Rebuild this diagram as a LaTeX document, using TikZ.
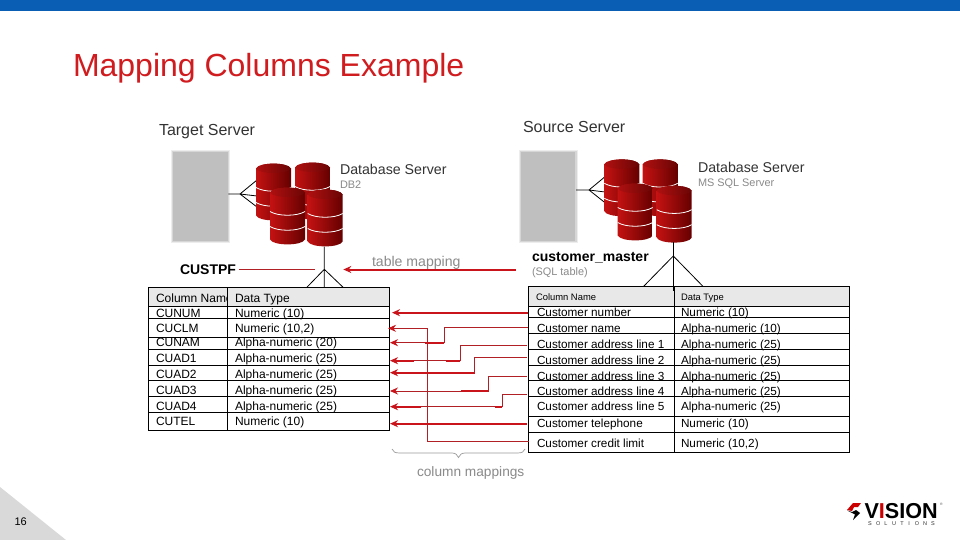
\documentclass[tikz,border=0pt]{standalone}
\usepackage{fontspec}
\setmainfont{Liberation Sans}
\usetikzlibrary{arrows.meta}
\definecolor{barblue}{HTML}{0A5FB4}
\definecolor{titlered}{HTML}{D01C1F}
\definecolor{maproad}{HTML}{B02025}
\definecolor{mapthick}{HTML}{C8141A}
\definecolor{softgrey}{HTML}{8A8A8A}
\definecolor{cylA}{HTML}{C41212}
\definecolor{cylB}{HTML}{A80A0A}
\definecolor{cylC}{HTML}{650000}
\definecolor{cylD}{HTML}{B01010}
\definecolor{cylE}{HTML}{6A0505}
\tikzset{
 txt/.style={anchor=base west,inner sep=0pt,outer sep=0pt,text=#1},
 txt/.default=black,
 cellA/.style={txt,font=\fontsize{12}{12}\selectfont},
 cellB/.style={txt,font=\fontsize{11.75}{12}\selectfont},
 cellH/.style={txt,font=\fontsize{9.4}{10}\selectfont},
 serverlabel/.style={txt=black!80,font=\fontsize{14.2}{15}\selectfont},
 wideserver/.style={txt=black!80,font=\fontsize{16}{17}\selectfont},
 sublabel/.style={txt=softgrey,font=\fontsize{10.9}{11}\selectfont},
 boldlabel/.style={txt,font=\bfseries\fontsize{14}{15}\selectfont},
 tableline/.style={draw=black,line width=1pt},
 fan/.style={draw=black,line width=.8pt},
 thinmap/.style={draw=maproad,line width=1pt},
 thickmap/.style={draw=mapthick,line width=2pt},
 tip/.style={-{Stealth[length=8pt,width=7pt,color=mapthick]}},
}
\newcommand{\cyl}[2]{%
 \shade[left color=cylA,middle color=cylB,right color=cylC]
  (#1,#2+5) .. controls (#1+3,#2-1.5) and (#1+32,#2-1.5) .. (#1+35,#2+5)
  -- (#1+35,#2+52) .. controls (#1+32,#2+58.5) and (#1+3,#2+58.5) .. (#1,#2+52) -- cycle;
 \shade[left color=cylD,right color=cylE]
  (#1,#2+5) .. controls (#1+3,#2-1.5) and (#1+32,#2-1.5) .. (#1+35,#2+5)
  .. controls (#1+32,#2+11) and (#1+3,#2+11) .. (#1,#2+5) -- cycle;
 \draw[white,line width=.8pt] (#1,#2+24) .. controls (#1+8,#2+29) and (#1+27,#2+29) .. (#1+35,#2+24);
 \draw[white,line width=.8pt] (#1,#2+39) .. controls (#1+8,#2+44) and (#1+27,#2+44) .. (#1+35,#2+39);
}
\newcommand{\servbox}[4]{%
 \fill[black!7] (#1-1.5,#2-1.5) rectangle (#3+1.5,#4+1.5);
 \fill[black!16] (#1-.5,#2-.5) rectangle (#3+.5,#4+.5);
 \fill[black!25] (#1+.7,#2+.7) rectangle (#3-.7,#4-.7);
}
\begin{document}
\begin{tikzpicture}[x=1pt,y=-1pt]
\useasboundingbox (0,0) rectangle (960,540);
\fill[white] (0,0) rectangle (960,540);
\fill[barblue] (0,0) rectangle (960,11);
\node[txt=titlered,font=\fontsize{32}{34}\selectfont] (title) at (73,77) {Mapping Columns Example};
\fill[black!15] (0,487) -- (66,540) -- (0,540) -- cycle;
\node[txt,font=\fontsize{11}{12}\selectfont] (pagenum) at (14.5,525) {16};

% server labels
\node[wideserver] (tserver) at (159,135.5) {Target Server};
\node[wideserver] (sserver) at (523,132.5) {Source Server};
\node[serverlabel] (dbl) at (340,175) {Database Server};
\node[sublabel] (dbltype) at (340,189) {DB2};
\node[serverlabel] (dbr) at (698,172) {Database Server};
\node[sublabel] (dbrtype) at (698,186) {MS SQL Server};

% servers
\servbox{172.7}{151.7}{228.3}{241.7}
\servbox{520.7}{151.7}{576}{241.7}
\coordinate (srvL) at (228.3,194);
\coordinate (fanL) at (240,194);
\coordinate (srvR) at (576,190);
\coordinate (fanR) at (589,190);
\coordinate (la1) at (257,180);\coordinate (la2) at (257,196);\coordinate (la3) at (257,207);
\coordinate (ra1) at (605,176.7);\coordinate (ra2) at (605,192);\coordinate (ra3) at (605,202.7);
\draw[fan] (srvL) -- (fanL) (fanL) -- (la1) (fanL) -- (la2) (fanL) -- (la3);
\draw[fan] (srvR) -- (fanR) (fanR) -- (ra1) (fanR) -- (ra2) (fanR) -- (ra3);

% cylinders
\cyl{256}{163.5}\cyl{295}{162.5}\cyl{270}{187.5}\cyl{307.7}{189.5}
\cyl{604.3}{159.3}\cyl{642.7}{159.3}\cyl{617.7}{183.5}\cyl{656.7}{185.7}

% left table
\fill[black!9] (148.5,287.5) rectangle (389,306.3);
\draw[tableline] (148.5,287.5) rectangle (389,430);
\foreach \y in {306.3,318.3,337,349.3,365.3,380.7,396.3,412.3}{\draw[tableline] (148.5,\y) -- (389,\y);}
\draw[tableline] (227.5,287.5) -- (227.5,430);
\begin{scope}
\clip (148,287) rectangle (227,306);
\node[cellA] (lh1) at (156,302) {Column Name};
\end{scope}
\node[cellA] (lh2) at (235,302) {Data Type};
\node[cellA] (l1) at (156,317.3) {CUNUM};  \node[cellA] (lt1) at (235,317.3) {Numeric (10)};
\node[cellA] (l2) at (156,332.3) {CUCLM};  \node[cellA] (lt2) at (235,332.3) {Numeric (10,2)};
\node[cellA] (l3) at (156,346.7) {CUNAM};  \node[cellA] (lt3) at (235,346.7) {Alpha-numeric (20)};
\node[cellA] (l4) at (156,362.7) {CUAD1};  \node[cellA] (lt4) at (235,362.7) {Alpha-numeric (25)};
\node[cellA] (l5) at (156,378.7) {CUAD2};  \node[cellA] (lt5) at (235,378.7) {Alpha-numeric (25)};
\node[cellA] (l6) at (156,394.3) {CUAD3};  \node[cellA] (lt6) at (235,394.3) {Alpha-numeric (25)};
\node[cellA] (l7) at (156,410) {CUAD4};    \node[cellA] (lt7) at (235,410) {Alpha-numeric (25)};
\node[cellA] (l8) at (156,425.7) {CUTEL};  \node[cellA] (lt8) at (235,425.7) {Numeric  (10)};

% right table
\fill[black!9] (528.7,286.7) rectangle (849,306.3);
\draw[tableline] (528.7,286.7) rectangle (849,452.3);
\foreach \y in {306.3,317.3,333.3,349.3,365.3,380.7,396.3,416,432.7}{\draw[tableline] (528.7,\y) -- (849,\y);}
\draw[tableline] (674.5,286.7) -- (674.5,452.3);
\node[cellH] (rh1) at (536,300) {Column Name};
\node[cellH] (rh2) at (681,300) {Data Type};
\node[cellB] (r1) at (537,316.7) {Customer number};        \node[cellB] (rt1) at (681,316.7) {Numeric (10)};
\node[cellB] (r2) at (537,332) {Customer name};            \node[cellB] (rt2) at (681,332) {Alpha-numeric (10)};
\node[cellB] (r3) at (537,348) {Customer address line 1};  \node[cellB] (rt3) at (681,348) {Alpha-numeric (25)};
\node[cellB] (r4) at (537,364) {Customer address line 2};  \node[cellB] (rt4) at (681,364) {Alpha-numeric (25)};
\node[cellB] (r5) at (537,380) {Customer address line 3};  \node[cellB] (rt5) at (681,380) {Alpha-numeric (25)};
\node[cellB] (r6) at (537,395) {Customer address line 4};  \node[cellB] (rt6) at (681,395) {Alpha-numeric (25)};
\node[cellB] (r7) at (537,410.7) {Customer address line 5};\node[cellB] (rt7) at (681,410.7) {Alpha-numeric (25)};
\node[cellB] (r8) at (537,427) {Customer telephone};       \node[cellB] (rt8) at (681,427) {Numeric (10)};
\node[cellB] (r9) at (537,447) {Customer credit limit};    \node[cellB] (rt9) at (681,447) {Numeric (10,2)};

% stack to table fans
\coordinate (dbLb) at (324.3,246.7); \coordinate (dbRb) at (673.3,242.3);
\coordinate (fL) at (324.3,269.3);  \coordinate (fR) at (673.3,256);
\coordinate (tL) at (324.3,287.5);  \coordinate (tR) at (673.3,291);
\coordinate (tLa) at (306.7,287.5); \coordinate (tLb) at (343.3,287.5);
\coordinate (tRa) at (643.3,286.7); \coordinate (tRb) at (703.3,286.7);
\draw[fan] (dbLb) -- (tL) (fL) -- (tLa) (fL) -- (tLb);
\draw[fan,line width=1.1pt] (dbRb) -- (tR);
\draw[fan] (fR) -- (tRa) (fR) -- (tRb);

% table labels
\node[boldlabel] (custpf) at (180,274.5) {CUSTPF};
\node[boldlabel] (custm) at (532,261.5) {customer\_master};
\node[sublabel] (sqlt) at (532,275.5) {(SQL table)};
\node[txt=softgrey,font=\fontsize{14.1}{15}\selectfont] (tmap) at (372,266) {table mapping};
\node[txt=softgrey,font=\fontsize{13.7}{14}\selectfont] (cmap) at (417,476) {column mappings};
\coordinate (cpE) at (239,269.3); \coordinate (cpF) at (315,269.3);
\draw[maproad,line width=.9pt] (cpE) -- (cpF);
\coordinate (tmS) at (515.7,269.5); \coordinate (tmT) at (343.3,269.5);
\draw[thickmap,tip] (tmS) -- (tmT);

% column mappings
\coordinate (s1) at (528,312.7);  \coordinate (t1) at (392,312.7);
\coordinate (s9) at (529,441.3);  \coordinate (t2) at (388,328.3);
\coordinate (s2) at (528,327.3);  \coordinate (t3) at (390,342.7);
\coordinate (s3) at (527,345.3);  \coordinate (t4) at (390,360.7);
\coordinate (s4) at (527,357.3);  \coordinate (t5) at (390,372.7);
\coordinate (s5) at (527,376.7);  \coordinate (t6) at (390,391);
\coordinate (s6) at (527,394.3);  \coordinate (t7) at (390,406.7);
\coordinate (s8) at (527,423.7);  \coordinate (t8) at (390,423.7);
\draw[thickmap,tip] (s1) -- (t1);
\draw[thinmap,tip] (s9) -| (427.3,328.3) -- (t2);
\draw[thinmap,tip] (s2) -| (444.3,342.7) -- (t3);
\draw[thinmap,tip] (s3) -| (460.3,360.7) -- (t4);
\draw[thinmap,tip] (s4) -| (474.7,372.7) -- (t5);
\draw[thinmap,tip] (s5) -| (488.7,391) -- (t6);
\draw[thinmap,tip] (s6) -| (502.3,406.7) -- (t7);
\draw[thickmap,tip] (s8) -- (t8);
% heavier stretches of the mappings
\draw[thickmap,line width=1.6pt] (444.3,342.7) -- (425,342.7);
\draw[thickmap,line width=1.6pt] (460.3,360.7) -- (446,360.7) (414,360.7) -- (396,360.7);
\draw[thickmap,line width=1.6pt] (474.7,372.7) -- (396,372.7);
\draw[thickmap,line width=1.6pt] (488.7,391) -- (461,391);
\draw[thickmap,line width=1.6pt] (502.3,406.7) -- (495,406.7) (421,406.7) -- (396,406.7);

% brace
\coordinate (brL) at (392,449); \coordinate (brR) at (525,449); \coordinate (brT) at (458.5,457.5);
\draw[black!40,line width=.7pt] (brL) .. controls (393,452) and (395,453) .. (400,453) -- (452,453)
  .. controls (456,453) and (457,455) .. (brT) .. controls (460,455) and (461,453) .. (465,453)
  -- (517,453) .. controls (522,453) and (524,452) .. (brR);

% logo
\fill[red!80!black] (847,510) -- (853,503) -- (861,503) -- (858,507) -- (854,507) -- (852,511) -- cycle;
\fill[black] (847,510.5) -- (852,512) -- (856,510) -- (860,513) -- (853,520) -- (855,514.5) -- cycle;
\node[txt,font=\bfseries\fontsize{21.6}{22}\selectfont] (logo) at (864.5,518)
  {V\textcolor{red!80!black}{I}SION};
\node[txt=black!80,font=\fontsize{5.5}{6}\selectfont] (logosub) at (868,525) {S\kern4.5pt O\kern4pt L\kern4.5pt U\kern4.5pt T\kern4.5pt I\kern5pt O\kern4pt N\kern4pt S};
\node[txt=black!70,font=\fontsize{3.5}{4}\selectfont] (logoreg) at (940,505) {®};
\end{tikzpicture}
\end{document}
